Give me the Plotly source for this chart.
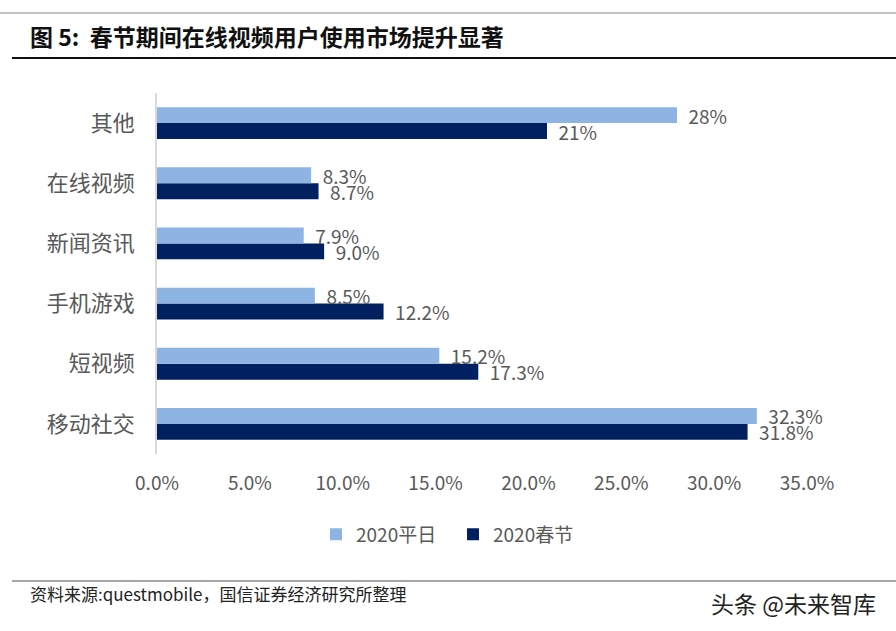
import plotly.graph_objects as go

categories = ["移动社交", "短视频", "手机游戏", "新闻资讯", "在线视频", "其他"]
weekday_2020 = [0.323, 0.152, 0.085, 0.079, 0.083, 0.28]
spring_2020 = [0.318, 0.173, 0.122, 0.090, 0.087, 0.21]
weekday_labels = ["32.3%", "15.2%", "8.5%", "7.9%", "8.3%", "28%"]
spring_labels = ["31.8%", "17.3%", "12.2%", "9.0%", "8.7%", "21%"]
x_ticks = [0, 0.05, 0.10, 0.15, 0.20, 0.25, 0.30, 0.35]
x_tick_text = ["0.0%", "5.0%", "10.0%", "15.0%", "20.0%", "25.0%", "30.0%", "35.0%"]

FONT = "Noto Sans CJK SC, Noto Sans, sans-serif"
GRAY = "#595959"
PW, PH = 650, 361

fig = go.Figure()
fig.add_trace(go.Bar(
    y=categories, x=spring_2020, orientation="h", name="2020春节",
    marker=dict(color="#002060", line=dict(width=0)),
    text=["  " + t for t in spring_labels], textposition="outside", constraintext="none",
    textfont=dict(size=19, color=GRAY, family=FONT), cliponaxis=False,
))
fig.add_trace(go.Bar(
    y=categories, x=weekday_2020, orientation="h", name="2020平日",
    marker=dict(color="#8DB4E2", line=dict(width=0)),
    text=["  " + t for t in weekday_labels], textposition="outside", constraintext="none",
    textfont=dict(size=19, color=GRAY, family=FONT), cliponaxis=False,
))

fig.update_layout(
    width=896, height=631,
    paper_bgcolor="white", plot_bgcolor="white",
    margin=dict(l=157, r=89, t=93, b=177, autoexpand=False),
    barmode="group", bargap=0.47, bargroupgap=0,
    font=dict(family=FONT, color=GRAY),
    showlegend=True,
    legend=dict(orientation="h", x=(316-157)/PW, xanchor="left", y=-0.17, yanchor="top",
                font=dict(size=19, color=GRAY, family=FONT), traceorder="reversed",
                itemwidth=30, entrywidth=92, entrywidthmode="pixels"),
    xaxis=dict(range=[0, 0.35], tickvals=x_ticks, ticktext=x_tick_text, automargin=False,
               showgrid=False, zeroline=False, showline=False,
               tickfont=dict(size=19, color=GRAY, family=FONT), ticks="", ticklabelstandoff=16),
    yaxis=dict(showgrid=False, zeroline=False, showline=True, linecolor="#D9D9D9",
               linewidth=1.5, ticks="", ticklabelstandoff=16, automargin=False,
               tickfont=dict(size=22, color=GRAY, family=FONT)),
)

# Header / footer decorations
fig.add_shape(type="line", xref="paper", yref="paper", x0=-157/PW, x1=(896-157)/PW,
              y0=1+(93-13)/PH, y1=1+(93-13)/PH, line=dict(color="#888888", width=1))
fig.add_shape(type="line", xref="paper", yref="paper", x0=-145/PW, x1=(896-157)/PW,
              y0=1+(93-58)/PH, y1=1+(93-58)/PH, line=dict(color="#111111", width=2))
fig.add_shape(type="line", xref="paper", yref="paper", x0=-145/PW, x1=(896-157)/PW,
              y0=-(581-454)/PH, y1=-(581-454)/PH, line=dict(color="#888888", width=1.5))

fig.add_annotation(text="<b>图 5:  春节期间在线视频用户使用市场提升显著</b>", xref="paper", yref="paper",
                   x=-129/PW, y=1+(93-36)/PH, xanchor="left", yanchor="middle", showarrow=False,
                   font=dict(size=23, color="#111111", family=FONT))
fig.add_annotation(text="资料来源:questmobile，国信证券经济研究所整理", xref="paper", yref="paper",
                   x=-129/PW, y=-(593-454)/PH, xanchor="left", yanchor="middle", showarrow=False,
                   font=dict(size=17, color="#222222", family=FONT))
fig.add_annotation(text="头条 @未来智库", xref="paper", yref="paper",
                   x=(878-157)/PW, y=-(603-454)/PH, xanchor="right", yanchor="middle", showarrow=False,
                   font=dict(size=23, color="#222222", family=FONT))

fig.write_html("out.html", config={"displayModeBar": False},
               post_script="document.body.style.margin='0';document.body.style.overflow='hidden';")
